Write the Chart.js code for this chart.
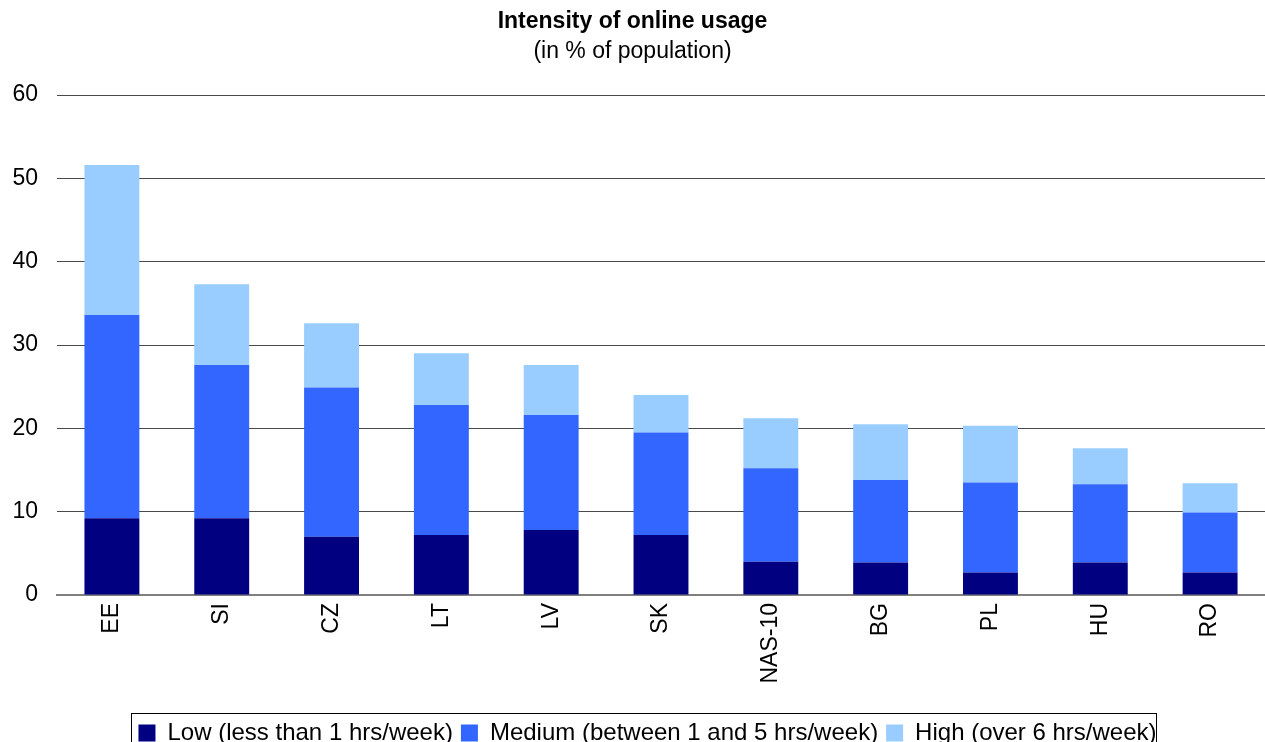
<!DOCTYPE html>
<html>
<head>
<meta charset="utf-8">
<script src="https://cdn.jsdelivr.net/npm/chart.js@4/dist/chart.umd.min.js"></script>
<style>
  html, body { margin: 0; padding: 0; background: #fff; overflow: hidden; }
  #wrap { width: 1265px; height: 755px; }
</style>
</head>
<body>
<div id="wrap"><canvas id="usage"></canvas></div>
<script>
const countries = ['EE', 'SI', 'CZ', 'LT', 'LV', 'SK', 'NAS-10', 'BG', 'PL', 'HU', 'RO'];
const low    = [9.2, 9.2, 7.0, 7.2, 7.8, 7.2, 4.0, 3.9, 2.7, 3.9, 2.7];
const medium = [24.4, 18.4, 17.9, 15.6, 13.8, 12.3, 11.2, 9.9, 10.8, 9.4, 7.2];
const high   = [18.0, 9.7, 7.7, 6.2, 6.0, 4.5, 6.0, 6.7, 6.8, 4.3, 3.5];
const yTicks = [0, 10, 20, 30, 40, 50, 60];

const FONT = "'Liberation Sans', Arial, sans-serif";
const LEGEND_SHIFT = 15;

// nudge the legend row right and draw a frame around it
const legendFrame = {
  id: 'legendFrame',
  beforeDraw(chart) {
    const lg = chart.legend;
    if (lg && !lg._shifted) {
      lg.left += LEGEND_SHIFT;
      lg.right += LEGEND_SHIFT;
      lg._shifted = true;
    }
  },
  afterDraw(chart) {
    const lg = chart.legend;
    if (!lg || !lg.legendItems.length) return;
    const pad = lg.options.labels.padding;
    const rowW = lg.lineWidths[0];
    const startX = (lg.left + pad + lg.right - rowW) / 2;
    const endX = startX + rowW - 2 * pad;
    const top = lg.legendHitBoxes[0].top - 8;
    const ctx = chart.ctx;
    ctx.save();
    ctx.strokeStyle = '#000';
    ctx.lineWidth = 1;
    ctx.strokeRect(Math.round(startX - 7) + 0.5, Math.round(top) + 0.5, Math.round(endX - startX + 15), 40);
    ctx.restore();
  }
};

new Chart(document.getElementById('usage'), {
  type: 'bar',
  data: {
    labels: countries,
    datasets: [
      { label: 'Low (less than 1 hrs/week)', data: low, backgroundColor: '#000080' },
      { label: 'Medium (between 1 and 5 hrs/week)', data: medium, backgroundColor: '#3366FF' },
      { label: 'High (over 6 hrs/week)', data: high, backgroundColor: '#99CCFF' }
    ]
  },
  options: {
    responsive: true,
    maintainAspectRatio: false,
    animation: false,
    barPercentage: 0.5,
    categoryPercentage: 1.0,
    layout: { padding: 0 },
    plugins: {
      title: {
        display: true,
        text: 'Intensity of online usage',
        color: '#000',
        font: { family: FONT, size: 23, weight: 'bold' },
        padding: { top: 8, bottom: 2 }
      },
      subtitle: {
        display: true,
        text: '(in % of population)',
        color: '#000',
        font: { family: FONT, size: 23 },
        padding: { top: 0, bottom: 29.8 }
      },
      legend: {
        position: 'bottom',
        labels: {
          color: '#000',
          font: { family: FONT, size: 24 },
          boxWidth: 17,
          boxHeight: 17,
          padding: 8
        }
      },
      tooltip: { enabled: false },
      legendFrame: {}
    },
    scales: {
      x: {
        stacked: true,
        afterFit(scale) { scale.height = 118; },
        grid: { display: false, drawTicks: false },
        border: { color: '#808080', width: 2 },
        ticks: {
          color: '#000',
          font: { family: FONT, size: 23 },
          minRotation: 90,
          maxRotation: 90,
          padding: 8
        }
      },
      y: {
        stacked: true,
        min: 0,
        max: 60,
        afterFit(scale) { scale.width = 57; },
        afterBuildTicks(scale) { scale.ticks = yTicks.map(v => ({ value: v })); },
        grid: { color: '#4a4a4a', lineWidth: 1, drawTicks: false },
        border: { display: false },
        ticks: {
          color: '#000',
          font: { family: FONT, size: 23 },
          padding: 19
        }
      }
    }
  },
  plugins: [legendFrame]
});
</script>
</body>
</html>
